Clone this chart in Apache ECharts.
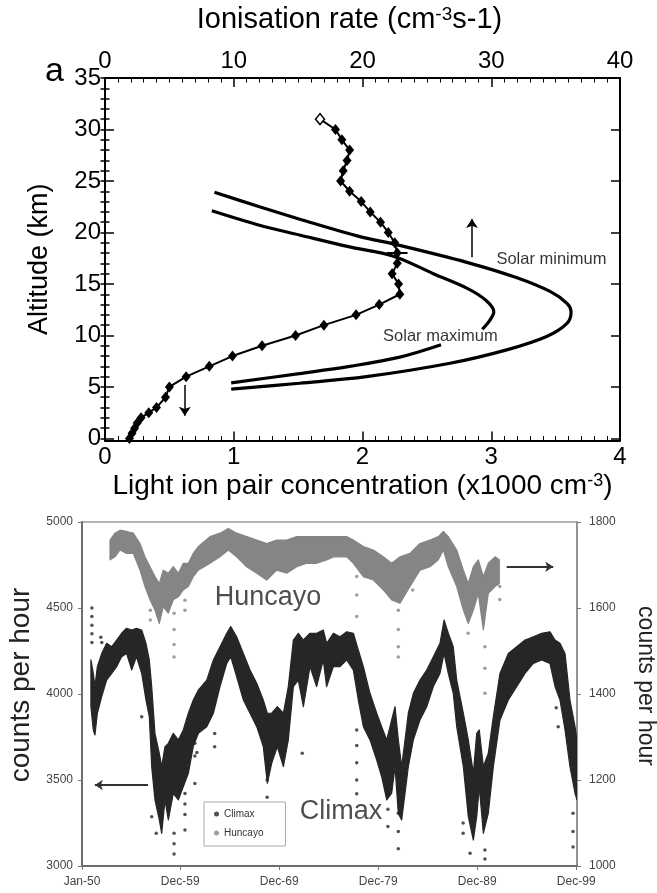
<!DOCTYPE html>
<html><head><meta charset="utf-8">
<script src="https://cdn.jsdelivr.net/npm/echarts@6/dist/echarts.min.js"></script>
<style>html,body{margin:0;padding:0;background:#fff}#c{width:657px;height:893px}</style>
</head><body><div id="c"></div><script>
// ---------------- Panel a : altitude profiles ----------------
const profileAlt  = [31,30,29,28,27,26,25,24,23,22,21,20,19,18,17,16,15,14,13,12,11,10,9,8,7,6,5,4,3,2.5,2,1.5,1,0.5,0];
const profileConc = [1.67,1.79,1.84,1.90,1.88,1.85,1.83,1.90,1.99,2.06,2.14,2.20,2.25,2.27,2.27,2.23,2.28,2.29,2.13,1.95,1.70,1.48,1.22,0.99,0.81,0.63,0.50,0.47,0.40,0.34,0.28,0.25,0.23,0.21,0.19];
const solarMinRate = [8.5,12.0,15.9,19.8,22.7,28.1,32.0,34.6,35.9,36.2,35.9,34.3,31.2,26.8,20.3,15.1,9.8];
const solarMinAlt  = [23.9,22.5,21.0,19.6,18.8,17.1,15.6,14.25,13.1,12.3,11.2,9.9,8.6,7.3,6.0,5.36,4.78];
const solarMaxRateUpper = [8.3,12.0,15.1,19.0,22.4,25.5,28.1,29.6,30.2,29.9,29.3];
const solarMaxAltUpper  = [22.1,20.7,19.76,18.6,17.7,16.0,14.6,13.4,12.3,11.5,10.6];
const solarMaxRateLower = [26.1,22.9,19.0,15.1,9.8];
const solarMaxAltLower  = [9.1,7.9,7.0,6.3,5.4];
const errorBarConc = [2.19,2.35];
const errorBarAlt = 18;
const topYMajor = [0,5,10,15,20,25,30,35];

// ---------------- Panel b : neutron monitors ----------------
const climaxYears = [1950.9,1951.14,1951.31,1951.55,1951.99,1952.49,1953.0,1953.5,1954.0,1954.5,1955.02,1955.5,1956.03,1956.46,1956.8,1957.04,1957.37,1957.81,1958.05,1958.38,1958.72,1959.22,1959.73,1960.23,1960.74,1961.24,1961.75,1962.6,1963.27,1963.94,1964.62,1965.02,1965.62,1966.3,1966.97,1967.65,1968.31,1968.72,1969.16,1969.73,1970.34,1970.84,1971.35,1971.85,1972.36,1973.03,1973.7,1974.37,1974.71,1975.39,1976.06,1976.74,1977.41,1977.91,1978.42,1979.09,1979.77,1980.27,1980.78,1981.28,1981.62,1981.95,1982.29,1982.63,1982.96,1983.47,1984.14,1984.82,1985.49,1986.16,1986.57,1987.0,1987.5,1987.85,1988.52,1989.02,1989.53,1989.87,1990.13,1990.54,1991.04,1991.55,1992.22,1993.06,1993.91,1994.75,1995.59,1996.43,1997.27,1997.78,1998.28,1998.79,1999.29,1999.8,2000.0];
const climaxHigh = [4198,4120,4043,4159,4236,4295,4275,4314,4353,4382,4372,4382,4372,4295,4198,4043,3771,3655,3578,3694,3713,3771,3733,3791,3888,3965,4023,4081,4198,4275,4353,4392,4333,4236,4139,4062,3965,3888,3888,3926,3888,4043,4314,4353,4314,4353,4353,4372,4295,4353,4333,4362,4353,4256,4159,4004,3888,3810,3733,3849,3926,3733,3578,3733,3888,4004,4081,4139,4217,4295,4430,4353,4275,4081,3888,3733,3539,3771,3791,3578,3655,3868,4120,4236,4275,4314,4333,4353,4362,4314,4295,4236,3965,3810,3733];
const climaxLow  = [3926,3791,3762,3888,3985,4081,4120,4159,4217,4236,4140,4217,4120,3965,3868,3577,3384,3268,3190,3384,3268,3422,3384,3461,3539,3694,3771,3810,3888,4043,4178,4217,4101,3965,3888,3810,3694,3481,3597,3694,3578,3733,4043,4081,3926,4159,4043,4198,4043,4159,4159,4198,4139,3965,3810,3733,3616,3519,3384,3423,3578,3306,3268,3423,3578,3733,3849,3926,4043,4120,4236,4120,4004,3810,3578,3287,3151,3287,3461,3190,3306,3578,3849,3965,4043,4120,4178,4198,4178,4043,3965,3791,3578,3423,3384];
const huncayoYears = [1952.83,1953.33,1953.84,1954.51,1955.18,1955.86,1956.36,1956.87,1957.37,1957.81,1958.21,1958.72,1959.22,1959.73,1960.23,1960.74,1961.24,1961.75,1962.93,1963.94,1964.78,1965.62,1966.63,1967.65,1968.66,1969.67,1970.68,1971.69,1972.7,1973.71,1974.72,1975.39,1976.74,1977.41,1978.42,1979.43,1980.43,1981.28,1982.12,1983.13,1984.14,1985.15,1985.99,1986.5,1987.0,1987.85,1988.52,1989.02,1989.53,1990.03,1990.54,1991.04,1991.72,1992.15];
const huncayoHigh = [1758,1774,1781,1778,1774,1750,1719,1696,1673,1657,1688,1681,1696,1681,1704,1704,1727,1743,1766,1774,1785,1774,1766,1758,1750,1758,1758,1766,1766,1766,1766,1766,1766,1758,1743,1735,1719,1704,1719,1727,1750,1758,1766,1778,1766,1735,1688,1657,1696,1712,1673,1704,1719,1712];
const huncayoLow  = [1712,1719,1735,1727,1727,1688,1650,1619,1595,1564,1603,1588,1619,1626,1642,1650,1673,1688,1704,1719,1735,1719,1696,1681,1665,1688,1681,1696,1704,1704,1712,1719,1719,1704,1673,1665,1642,1619,1611,1650,1688,1696,1712,1735,1696,1650,1595,1564,1595,1634,1549,1634,1650,1657];
const climaxOutlierYears  = [1951.0,1951.0,1951.0,1951.0,1951.0,1951.9,1952.0,1956.03,1957.04,1957.5,1959.3,1959.3,1959.3,1960.4,1960.4,1960.4,1960.4,1961.4,1961.4,1961.4,1961.6,1961.6,1961.6,1961.6,1963.4,1963.4,1968.7,1968.7,1972.25,1977.75,1977.75,1977.75,1977.75,1977.75,1980.9,1980.9,1980.9,1981.95,1981.95,1981.95,1988.5,1988.5,1989.2,1990.7,1990.7,1997.9,1998.1,1999.6,1999.6,1999.6];
const climaxOutlierValues = [4500,4450,4400,4350,4300,4330,4300,3868,3287,3190,3190,3130,3070,3422,3360,3300,3210,3713,3640,3480,3965,3870,3770,3660,3771,3694,3500,3400,3655,3790,3700,3600,3500,3420,3422,3330,3230,3306,3200,3100,3250,3190,3074,3093,3040,3920,3810,3306,3200,3110];
const huncayoOutlierYears  = [1956.9,1956.9,1959.3,1959.3,1959.3,1959.3,1960.4,1960.4,1977.75,1977.75,1977.75,1981.95,1981.95,1981.95,1981.95,1983.4,1989.0,1990.7,1990.7,1990.7,1992.2,1992.2];
const huncayoOutlierValues = [1595,1572,1588,1550,1515,1486,1618,1595,1673,1630,1580,1595,1550,1510,1486,1642,1541,1510,1460,1402,1650,1620];
const dateTickYears  = [1950,1959.92,1969.92,1979.92,1989.92,1999.92];
const dateTickLabels = ['Jan-50','Dec-59','Dec-69','Dec-79','Dec-89','Dec-99'];

// ---------------- styling helpers ----------------
const FONT = 'Liberation Sans';
const zip = (xs, ys) => xs.map((x, i) => [x, ys[i]]);
const range = (a, b) => { const r = []; for (let v = a; v <= b; v++) r.push(v); return r; };
const blackLine = { show: true, onZero: false, lineStyle: { color: '#000', width: 2 } };
const inTick = (len, vals) => {
  const t = { show: true, inside: true, length: len, lineStyle: { color: '#000', width: 1.5 } };
  if (vals) t.customValues = vals;
  return t;
};
const none = { show: false };
const plain = v => String(v);

// band polygon (upper edge forward, lower edge backward) through the axis scales
const bandSeries = (years, high, low, yAxisIndex, color) => ({
  type: 'custom', xAxisIndex: 2, yAxisIndex, silent: true, clip: true,
  data: [[years[0], low[0]]],
  renderItem: (params, api) => {
    const up = years.map((y, i) => api.coord([y, high[i]]));
    const dn = years.map((y, i) => api.coord([y, low[i]])).reverse();
    return { type: 'polygon', shape: { points: up.concat(dn) },
      style: { fill: color, stroke: color, lineWidth: 1.2, lineJoin: 'round' } };
  }
});

const chart = echarts.init(document.getElementById('c'), null, { renderer: 'canvas' });
const option = {
  animation: false,
  backgroundColor: '#fff',
  textStyle: { fontFamily: FONT },
  grid: [
    { left: 105, top: 78, width: 515, height: 362.5, show: false, containLabel: false, outerBoundsMode: 'none' },
    { left: 82, top: 522, width: 495, height: 344, show: true, containLabel: false, outerBoundsMode: 'none',
      borderColor: '#9a9a9a', borderWidth: 1.5, backgroundColor: 'transparent' }
  ],
  xAxis: [
    { gridIndex: 0, type: 'value', position: 'bottom', min: 0, max: 4, interval: 1,
      axisLine: blackLine, axisTick: inTick(9), splitLine: none,
      minorTick: { show: true, splitNumber: 10, length: 4.5, lineStyle: { color: '#000', width: 1 } },
      axisLabel: { fontSize: 24, color: '#000', fontFamily: FONT, margin: 5 },
      name: 'Light ion pair concentration (x1000 cm{s|-3})', nameLocation: 'middle', nameGap: 32,
      nameTextStyle: { fontSize: 28, color: '#000', fontFamily: FONT, rich: { s: { fontSize: 18, verticalAlign: 'top', fontFamily: FONT, color: '#000' } } } },
    { gridIndex: 0, type: 'value', position: 'top', min: 0, max: 40, interval: 10,
      axisLine: blackLine, axisTick: inTick(9), splitLine: none,
      minorTick: { show: true, splitNumber: 10, length: 4.5, lineStyle: { color: '#000', width: 1 } },
      axisLabel: { fontSize: 24, color: '#000', fontFamily: FONT, margin: 5 },
      name: 'Ionisation rate (cm{s|-3}s-1)', nameLocation: 'middle', nameGap: 44,
      nameTextStyle: { fontSize: 29, color: '#000', fontFamily: FONT, padding: [0, 26, 0, 0], rich: { s: { fontSize: 19, verticalAlign: 'top', fontFamily: FONT, color: '#000' } } } },
    { gridIndex: 1, type: 'value', position: 'bottom', min: 1950, max: 2000,
      axisLine: { show: true, onZero: false, lineStyle: { color: '#6e6e6e', width: 2 } },
      axisTick: { show: true, length: 4, customValues: dateTickYears, lineStyle: { color: '#777' } },
      axisLabel: { customValues: dateTickYears, fontSize: 12, color: '#444', margin: 10,
        formatter: v => { let best = 0; dateTickYears.forEach((t, i) => { if (Math.abs(t - v) < Math.abs(dateTickYears[best] - v)) best = i; }); return dateTickLabels[best]; } },
      splitLine: none }
  ],
  yAxis: [
    { gridIndex: 0, type: 'value', position: 'left', min: -0.2, max: 35,
      axisLine: blackLine, axisTick: inTick(9, topYMajor), splitLine: none,
      axisLabel: { customValues: topYMajor, fontSize: 24, color: '#000', fontFamily: FONT, margin: 4 },
      name: 'Altitude (km)', nameLocation: 'middle', nameGap: 52,
      nameTextStyle: { fontSize: 27, color: '#000', fontFamily: FONT } },
    { gridIndex: 0, type: 'value', position: 'left', min: -0.2, max: 35,
      axisLine: none, axisTick: inTick(4.5, range(0, 35)), axisLabel: none, splitLine: none },
    { gridIndex: 0, type: 'value', position: 'right', min: -0.2, max: 35,
      axisLine: blackLine, axisTick: inTick(9, topYMajor), axisLabel: none, splitLine: none },
    { gridIndex: 0, type: 'value', position: 'right', min: -0.2, max: 35,
      axisLine: none, axisTick: inTick(4.5, range(0, 35)), axisLabel: none, splitLine: none },
    { gridIndex: 1, type: 'value', position: 'left', min: 3000, max: 5000, interval: 500,
      axisLine: { show: true, onZero: false, lineStyle: { color: '#6e6e6e', width: 2 } },
      axisTick: { show: true, length: 4, lineStyle: { color: '#777' } },
      axisLabel: { fontSize: 12, color: '#444', margin: 9, formatter: plain }, splitLine: none,
      name: 'counts per hour', nameLocation: 'middle', nameGap: 42,
      nameTextStyle: { fontSize: 28, color: '#222', padding: [0, 0, 0, 18] } },
    { gridIndex: 1, type: 'value', position: 'right', min: 1000, max: 1800, interval: 200,
      axisLine: { show: true, onZero: false, lineStyle: { color: '#8a8a8a', width: 1.5 } },
      axisTick: { show: true, length: 4, lineStyle: { color: '#777' } },
      axisLabel: { fontSize: 12, color: '#444', margin: 12, formatter: plain }, splitLine: none,
      name: 'counts per hour', nameLocation: 'middle', nameGap: 57, nameRotate: -90,
      nameTextStyle: { fontSize: 23, color: '#222', padding: [0, 16, 0, 0] } }
  ],
  legend: {
    data: ['Climax', 'Huncayo'], selectedMode: false, orient: 'vertical',
    left: 204, top: 802, itemWidth: 5, itemHeight: 5, itemGap: 9, icon: 'circle',
    padding: [7, 22, 8, 10], borderColor: '#aaa', borderWidth: 1, backgroundColor: '#fff',
    textStyle: { fontSize: 10, color: '#333' }
  },
  graphic: [
    { type: 'text', left: 45, top: 55, style: { text: 'a', font: '34px "Liberation Sans"', fill: '#000' } }
  ],
  series: [
    { type: 'line', xAxisIndex: 0, yAxisIndex: 0, symbol: 'diamond', symbolSize: [9, 11],
      itemStyle: { color: '#000' }, lineStyle: { color: '#000', width: 2 },
      data: profileConc.map((c, i) => i === 0
        ? { value: [c, profileAlt[i]], itemStyle: { color: '#fff', borderColor: '#000', borderWidth: 1.5 } }
        : [c, profileAlt[i]]) },
    { type: 'line', xAxisIndex: 1, yAxisIndex: 0, symbol: 'none', smooth: 0.35,
      lineStyle: { color: '#000', width: 3.2 }, data: zip(solarMinRate, solarMinAlt) },
    { type: 'line', xAxisIndex: 1, yAxisIndex: 0, symbol: 'none', smooth: 0.35,
      lineStyle: { color: '#000', width: 3.2 }, data: zip(solarMaxRateUpper, solarMaxAltUpper) },
    { type: 'line', xAxisIndex: 1, yAxisIndex: 0, symbol: 'none', smooth: 0.35,
      lineStyle: { color: '#000', width: 3.2 }, data: zip(solarMaxRateLower, solarMaxAltLower) },
    { type: 'line', xAxisIndex: 0, yAxisIndex: 0, symbol: 'none',
      lineStyle: { color: '#000', width: 2 }, data: errorBarConc.map(c => [c, errorBarAlt]) },
    { type: 'lines', coordinateSystem: 'cartesian2d', xAxisIndex: 0, yAxisIndex: 0,
      symbol: ['none', 'arrow'], symbolSize: 9, lineStyle: { color: '#000', width: 1.5, opacity: 1 },
      data: [ { coords: [[2.85, 17.6], [2.85, 21.3]] }, { coords: [[0.62, 5.2], [0.62, 2.2]] } ] },
    { type: 'scatter', xAxisIndex: 0, yAxisIndex: 0, symbolSize: 0, silent: true,
      label: { show: true, position: 'right', distance: 0, formatter: p => p.name, fontSize: 16.5, color: '#000', fontFamily: FONT },
      data: [ { name: 'Solar minimum', value: [3.04, 17.4] }, { name: 'Solar maximum', value: [2.16, 9.95] } ] },
    bandSeries(huncayoYears, huncayoHigh, huncayoLow, 5, '#858585'),
    bandSeries(climaxYears, climaxHigh, climaxLow, 4, '#262626'),
    { name: 'Climax', type: 'scatter', xAxisIndex: 2, yAxisIndex: 4, symbolSize: 3.5,
      itemStyle: { color: '#262626' }, data: zip(climaxOutlierYears, climaxOutlierValues) },
    { name: 'Huncayo', type: 'scatter', xAxisIndex: 2, yAxisIndex: 5, symbolSize: 3.5,
      itemStyle: { color: '#858585' }, data: zip(huncayoOutlierYears, huncayoOutlierValues) },
    { type: 'lines', coordinateSystem: 'cartesian2d', xAxisIndex: 2, yAxisIndex: 4,
      symbol: ['none', 'arrow'], symbolSize: 8, lineStyle: { color: '#333', width: 2, opacity: 1 },
      data: [ { coords: [[1956.67, 3471], [1951.3, 3471]] } ] },
    { type: 'lines', coordinateSystem: 'cartesian2d', xAxisIndex: 2, yAxisIndex: 5,
      symbol: ['none', 'arrow'], symbolSize: 8, lineStyle: { color: '#333', width: 2, opacity: 1 },
      data: [ { coords: [[1992.9, 1696], [1997.6, 1696]] } ] },
    { type: 'scatter', xAxisIndex: 2, yAxisIndex: 4, symbolSize: 0, silent: true,
      label: { show: true, position: 'right', distance: 0, formatter: p => p.name, fontSize: 27, color: '#222' },
      data: [ { name: 'Huncayo', value: [1963.4, 4558] }, { name: 'Climax', value: [1972.0, 3314] } ] }
  ]
};
chart.setOption(option);
</script></body></html>
